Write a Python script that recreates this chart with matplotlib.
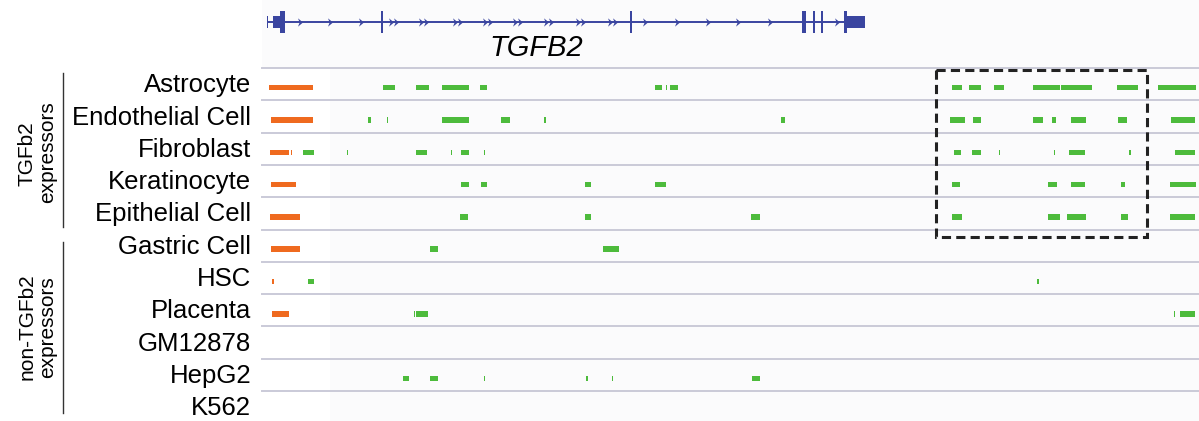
import matplotlib
matplotlib.use("Agg")
import matplotlib.pyplot as plt
from matplotlib.patches import Rectangle
from matplotlib import transforms

plt.rcParams['font.family'] = ['Liberation Sans', 'DejaVu Sans']

# positions are track units (left edge of the browser view = 0)
CELLS = ["Astrocyte", "Endothelial Cell", "Fibroblast", "Keratinocyte", "Epithelial Cell",
         "Gastric Cell", "HSC", "Placenta", "GM12878", "HepG2", "K562"]
GROUPS = ["TGFb2", "non-TGFb2"]

orange_segs = [
    [(7, 51)],
    [(9, 51)],
    [(8, 27), (29, 30)],
    [(9, 34)],
    [(8, 38)],
    [(9, 38)],
    [(10, 12)],
    [(10, 27)],
    [],
    [],
    [],
]
green_segs = [
    [(121, 133), (154, 167), (180, 207), (218, 225), (393, 400), (404, 405), (408, 416),
     (690, 700), (707, 719), (732, 742), (771, 798), (799, 830), (855, 876), (896, 934)],
    [(106, 109), (125, 126), (180, 207), (239, 248), (282, 284), (519, 523), (688, 703),
     (711, 719), (771, 781), (790, 794), (809, 824), (856, 865), (909, 933)],
    [(41, 52), (85, 86), (154, 165), (189, 190), (199, 207), (222, 223), (692, 699),
     (710, 719), (737, 738), (792, 793), (807, 823), (867, 869), (913, 933)],
    [(199, 207), (219, 225), (323, 329), (393, 404), (690, 698), (786, 795), (809, 823),
     (859, 863), (908, 934)],
    [(198, 206), (323, 329), (489, 498), (690, 700), (786, 798), (805, 824), (859, 866),
     (908, 933)],
    [(168, 176), (341, 357)],
    [(46, 52), (775, 777)],
    [(152, 153), (154, 166), (912, 913), (918, 933)],
    [],
    [(141, 147), (168, 176), (222, 223), (324, 326), (350, 351), (490, 498)],
    [],
]
highlight = (674, 885)  # dashed box, x range

# gene model
gene_span = (5, 603)
utrs = [(5, 6), (11, 18), (585, 603)]
exons = [(18, 23), (119, 121), (368, 370), (540, 544), (551, 553), (559, 561), (582, 585)]
single_arrows = [38, 68, 99, 383, 415, 446, 476, 508, 575]
double_arrows = [131, 161, 195, 225, 255, 286, 318, 350]
gene_name = "TGFB2"
gene_label_pos = 274

ORANGE = "#ef6a1f"
GREEN = "#4dbb3c"
BLUE = "#3a45a0"
BG = "#fbfbfc"

W, H = 1199, 421
fig = plt.figure(figsize=(W / 100, H / 100), dpi=100)
fig.patch.set_facecolor("white")
x0 = 262
top = 68
pitch = 32.3

# --- gene track ---
gax = fig.add_axes([x0 / W, 1 - top / H, (W - x0) / W, top / H])
gax.set_xlim(0, W - x0)
gax.set_ylim(-2.09, 1.0)
gax.plot(gene_span, [0, 0], color=BLUE, lw=1.4, solid_capstyle="butt")
for s, e in utrs:
    gax.add_patch(Rectangle((s, -0.26), e - s, 0.52, color=BLUE, lw=0))
for s, e in exons:
    gax.add_patch(Rectangle((s, -0.5), e - s, 1.0, color=BLUE, lw=0))
# chevrons on the introns
chev = [(-0.6, 1.0), (0.6, 0.0), (-0.6, -1.0), (-0.2, 0.0)]
gax.plot(single_arrows, [0] * len(single_arrows), marker=chev, ls="none",
         color=BLUE, ms=6, mew=0)
for p in double_arrows:
    gax.plot([p - 2.5, p + 2.5], [0, 0], marker=chev, ls="none", color=BLUE, ms=6, mew=0)
gax.text(gene_label_pos, -1.2, gene_name, style="italic", fontsize=21,
         ha="center", va="center", color="black")
gax.axis("off")
gax.add_patch(Rectangle((0, -2.09), W - x0, 3.09, color=BG, zorder=-5, lw=0))

# --- signal tracks ---
ax = fig.add_axes([x0 / W, 0, (W - x0) / W, (H - top) / H])
ax.set_facecolor(BG)
ax.set_xlim(0, W - x0)
ax.set_ylim(-0.5 + (H - top) / pitch, -0.5)
ax.axvspan(0, 68, color="white", zorder=0, lw=0)

for i in range(len(CELLS)):
    ax.axhline(i - 0.5, color="#cacad8", lw=1.4, zorder=1, clip_on=False)

bar_h = 0.17
off = 0.11
for i, (osegs, gsegs) in enumerate(zip(orange_segs, green_segs)):
    if osegs:
        ax.broken_barh([(s, max(e - s, 1.2)) for s, e in osegs], (i + off - bar_h / 2, bar_h),
                       facecolors=ORANGE, zorder=3)
    if gsegs:
        ax.broken_barh([(s, max(e - s, 1.2)) for s, e in gsegs], (i + off - bar_h / 2, bar_h),
                       facecolors=GREEN, zorder=3)

ax.add_patch(Rectangle((highlight[0], -0.44), highlight[1] - highlight[0], 5.17,
                       fill=False, edgecolor="#222222", lw=2.2, linestyle=(0, (3, 1.7)),
                       zorder=4))

for spine in ax.spines.values():
    spine.set_visible(False)
ax.set_xticks([])
ax.set_yticks([])

# row labels
ytr = ax.get_yaxis_transform()
for i, name in enumerate(CELLS):
    ax.text(-11 / (W - x0), i + 0.25, name, transform=ytr, ha="right", va="baseline",
            fontsize=18.5, color="black", clip_on=False)

# group labels and brackets
btr = transforms.blended_transform_factory(fig.transFigure, ax.transData)
bracket_spans = [(-0.35, 4.42), (4.89, 10.18)]
label_rows = [(2.16, 2.1), (7.52, 7.52)]
for gname, (b0, b1), (ly1, ly2) in zip(GROUPS, bracket_spans, label_rows):
    ax.plot([63 / W, 63 / W], [b0, b1], color="#333333", lw=1.0, transform=btr,
            clip_on=False)
    ax.text(27 / W, ly1, gname, transform=btr, rotation=90, ha="center", va="center",
            fontsize=15, clip_on=False)
    ax.text(48 / W, ly2, "expressors", transform=btr, rotation=90, ha="center",
            va="center", fontsize=15, clip_on=False)

fig.savefig("out.png", dpi=100, facecolor="white")
